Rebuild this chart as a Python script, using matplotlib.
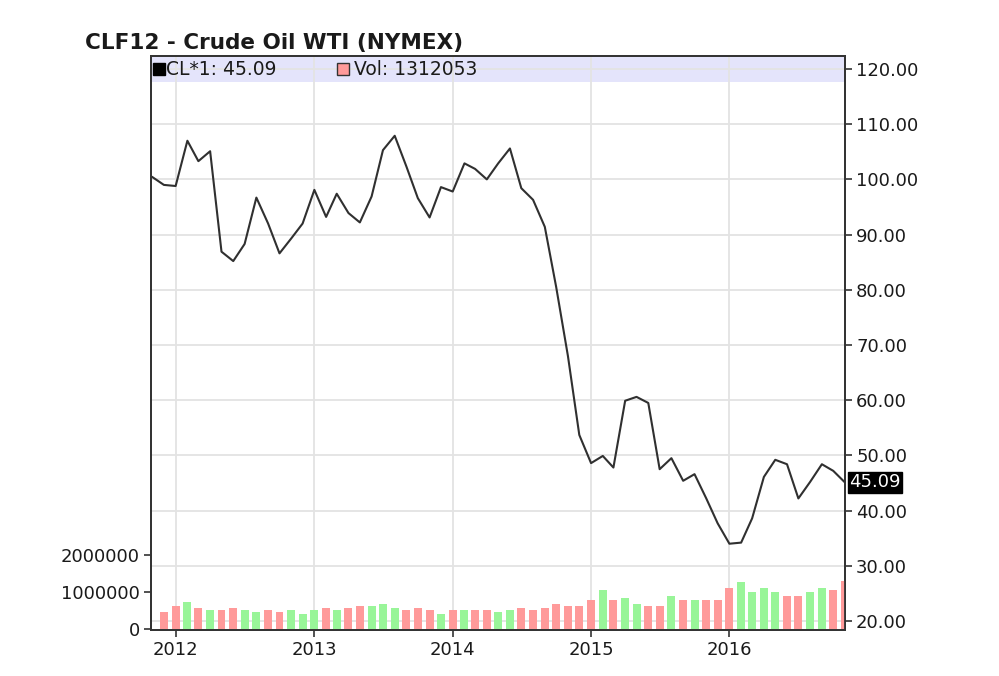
"""
plot.py
CLF12 - Crude Oil WTI (NYMEX), monthly close with volume bars
"""

import matplotlib
matplotlib.use('Agg')
import matplotlib.pyplot as plt
import matplotlib.dates as mdates
from matplotlib.patches import Rectangle
import pandas as pd

## data (monthly, Nov 2011 .. Nov 2016)
MONTHS = pd.date_range('2011-11-01', '2016-11-01', freq='MS')

PRICE = [
    100.4, 99.0,                                                            # 2011
    98.8, 107.0, 103.3, 105.1, 86.9, 85.2, 88.3, 96.7, 92.0, 86.6, 89.3, 92.0,   # 2012
    98.1, 93.2, 97.4, 93.9, 92.2, 96.9, 105.3, 107.9, 102.3, 96.6, 93.1, 98.6,   # 2013
    97.8, 102.9, 101.9, 100.0, 102.9, 105.6, 98.4, 96.3, 91.4, 80.5, 68.0, 53.7, # 2014
    48.6, 49.9, 47.8, 59.9, 60.6, 59.5, 47.5, 49.5, 45.4, 46.6, 42.2, 37.7,      # 2015
    34.0, 34.2, 38.6, 46.1, 49.2, 48.4, 42.2, 45.2, 48.4, 47.2, 45.09,           # 2016
]

# volume starts Dec 2011
VOLUME = [
    470000,
    630000, 730000, 570000, 520000, 520000, 570000, 520000, 470000, 520000, 470000, 520000, 420000,
    520000, 570000, 520000, 570000, 630000, 630000, 670000, 570000, 520000, 570000, 520000, 420000,
    520000, 520000, 520000, 520000, 470000, 520000, 570000, 520000, 570000, 670000, 630000, 630000,
    790000, 1050000, 790000, 830000, 670000, 620000, 620000, 890000, 790000, 790000, 790000, 790000,
    1100000, 1270000, 990000, 1100000, 990000, 890000, 890000, 990000, 1100000, 1050000, 1312053,
]

PRICE_TICKS = [20, 30, 40, 50, 60, 70, 80, 90, 100, 110, 120]
VOL_TICKS = [0, 1000000, 2000000]
YEARS = [2012, 2013, 2014, 2015, 2016]

UP_COLOR = '#99f599'
DOWN_COLOR = '#ff9a9a'
DARK = '#333333'
TEXT = '#1a1a1a'
FONT = 'DejaVu Sans'


def plot_chart():
    '''
    price line (right axis) + volume bars (left axis)
    '''
    plt.rcParams['font.family'] = FONT

    fig = plt.figure(figsize=(9.99, 6.76), dpi=100)
    ax = fig.add_axes([151 / 999, 46 / 676, 694 / 999, 574 / 676])
    axv = ax.twinx()

    ## grid + legend band
    ax.set_axisbelow(True)
    ax.grid(True, color='#e3e3e3', linewidth=1.3)
    ax.add_patch(Rectangle((0, 0.955), 1, 0.045, transform=ax.transAxes,
                           facecolor='#e4e4fb', edgecolor='none', zorder=0.4))

    ## price line
    ax.plot(MONTHS, PRICE, color='#303030', linewidth=1.5, zorder=3)
    ax.set_ylim(18.37, 122.35)
    ax.set_yticks(PRICE_TICKS)
    ax.set_yticklabels(['{:.2f}'.format(v) for v in PRICE_TICKS])
    ax.yaxis.tick_right()

    ## volume bars, colour by price move
    vol_dates = MONTHS[1:]
    bar_colors = [UP_COLOR if PRICE[i + 1] >= PRICE[i] else DOWN_COLOR
                  for i in range(len(vol_dates))]
    axv.bar(vol_dates, VOLUME, width=21, color=bar_colors, zorder=2)
    axv.set_ylim(-20000, 15430000)
    axv.set_yticks(VOL_TICKS)
    axv.set_yticklabels([str(v) for v in VOL_TICKS])
    axv.yaxis.tick_left()

    ## x axis
    ax.set_xlim(MONTHS[0] - pd.Timedelta(days=4), MONTHS[-1])
    ax.set_xticks([pd.Timestamp('{}-01-01'.format(y)) for y in YEARS])
    ax.xaxis.set_major_formatter(mdates.DateFormatter('%Y'))

    for a in (ax, axv):
        a.tick_params(direction='out', length=5, width=1.2, color=DARK,
                      labelsize=13, labelcolor=TEXT, pad=3)
        for sp in a.spines.values():
            sp.set_color(DARK)
            sp.set_linewidth(1.3)

    ## last price tag
    ax.annotate('{:.2f}'.format(PRICE[-1]), xy=(1, PRICE[-1]),
                xycoords=('axes fraction', 'data'), xytext=(3, 0),
                textcoords='offset points', va='center', ha='left',
                fontsize=13, color='white', annotation_clip=False,
                bbox=dict(boxstyle='square,pad=0.06', facecolor='black', edgecolor='black'))

    ## legend row
    ax.plot([0.011], [0.977], marker='s', markersize=8, color='black',
            transform=ax.transAxes, clip_on=False, zorder=5)
    ax.text(0.022, 0.977, 'CL*1: {:.2f}'.format(PRICE[-1]), transform=ax.transAxes,
            va='center', ha='left', fontsize=13.5, color=TEXT, zorder=5)
    ax.plot([0.277], [0.977], marker='s', markersize=8, markerfacecolor=DOWN_COLOR,
            markeredgecolor=DARK, markeredgewidth=1, transform=ax.transAxes,
            clip_on=False, zorder=5)
    ax.text(0.292, 0.977, 'Vol: {}'.format(VOLUME[-1]), transform=ax.transAxes,
            va='center', ha='left', fontsize=13.5, color=TEXT, zorder=5)

    ## title
    fig.text(85 / 999, 1 - 43 / 676, 'CLF12 - Crude Oil WTI (NYMEX)',
             fontsize=15.5, fontweight='bold', color=TEXT, va='center', ha='left')

    fig.savefig('out.png', dpi=100, facecolor='white')


if __name__ == '__main__':
    plot_chart()
